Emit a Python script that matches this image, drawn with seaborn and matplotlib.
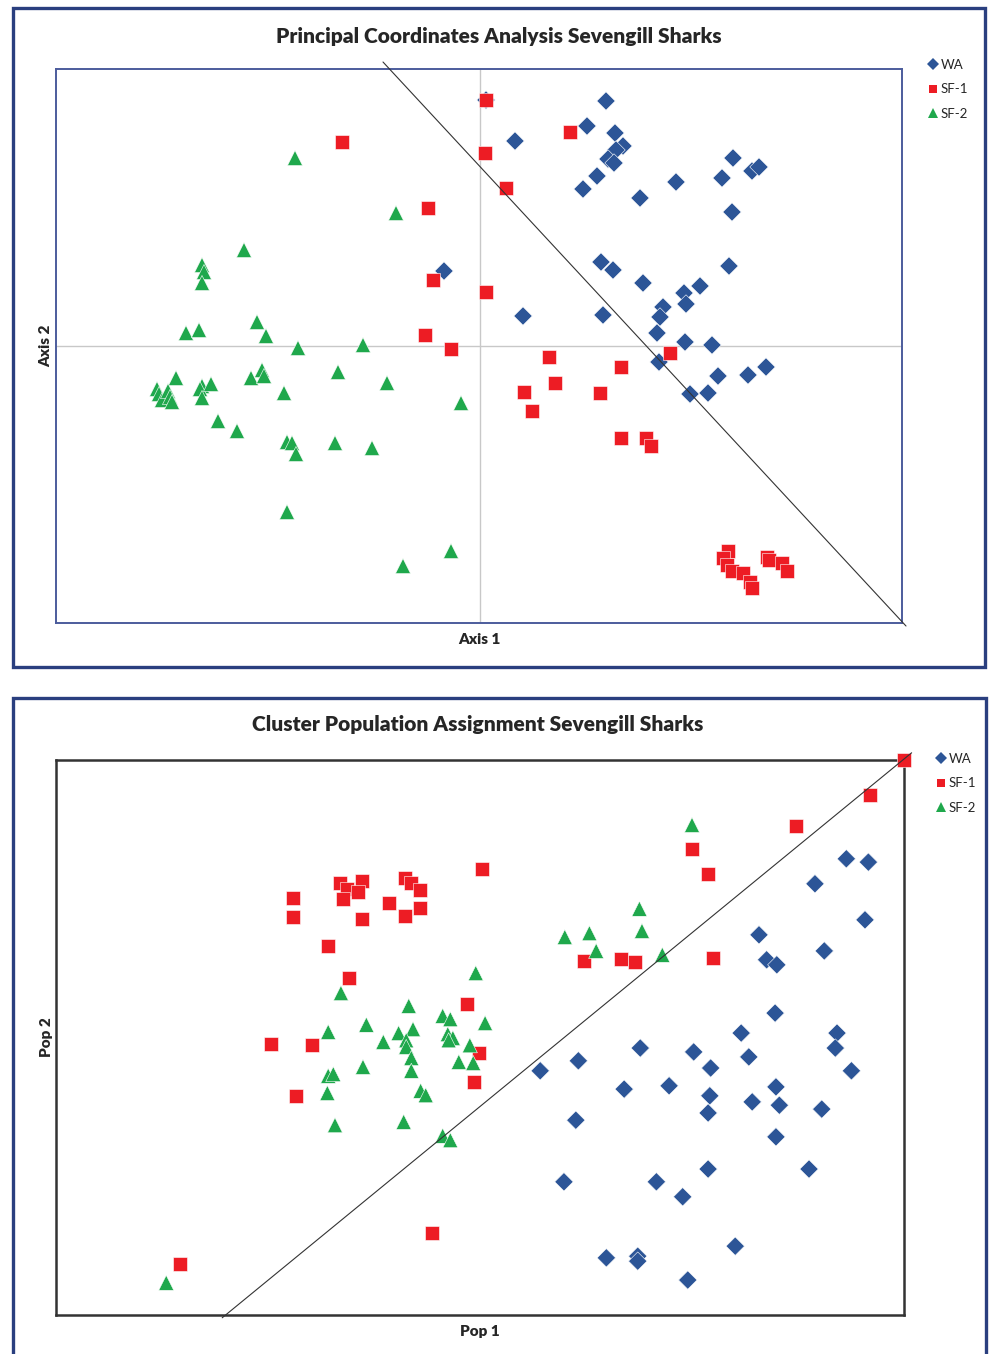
import pandas as pd
import matplotlib
matplotlib.use("Agg")
import matplotlib.pyplot as plt
import seaborn as sns
from matplotlib.patches import Rectangle

# Panel 1: PCoA coordinates
wa_axis1 = [0.006, 0.126, 0.107, 0.035, 0.135, 0.143, 0.136, 0.128, 0.134, 0.117,
            0.103, 0.196, 0.160, 0.253, 0.242, 0.272, 0.279, 0.252, 0.249, 0.121,
            0.133, 0.163, 0.220, 0.204, 0.206, 0.183, 0.180, 0.043, 0.123, 0.177,
            0.205, 0.232, 0.179, 0.238, 0.268, 0.286, 0.210, 0.228, -0.036]
wa_axis2 = [0.246, 0.245, 0.220, 0.205, 0.213, 0.200, 0.196, 0.187, 0.183, 0.170,
            0.157, 0.164, 0.148, 0.188, 0.168, 0.175, 0.179, 0.134, 0.080, 0.084,
            0.076, 0.063, 0.060, 0.053, 0.042, 0.039, 0.029, 0.030, 0.031, 0.013,
            0.004, 0.001, -0.016, -0.030, -0.029, -0.021, -0.048, -0.047, 0.075]
sf1_axis1 = [0.006, -0.138, 0.005, -0.052, 0.090, 0.026, -0.047, 0.006, -0.055, -0.029,
             0.069, 0.190, 0.141, 0.044, 0.075, 0.120, 0.052, 0.141, 0.166, 0.171,
             0.248, 0.243, 0.247, 0.252, 0.263, 0.270, 0.272, 0.287, 0.289, 0.302, 0.307]
sf1_axis2 = [0.246, 0.204, 0.193, 0.138, 0.214, 0.158, 0.066, 0.054, 0.011, -0.003,
             -0.011, -0.007, -0.021, -0.046, -0.037, -0.047, -0.065, -0.092, -0.092, -0.100,
             -0.205, -0.212, -0.219, -0.225, -0.227, -0.236, -0.242, -0.211, -0.214, -0.217, -0.225]
sf2_axis1 = [-0.185, -0.084, -0.236, -0.278, -0.276, -0.278, -0.223, -0.294, -0.281, -0.214,
             -0.182, -0.117, -0.304, -0.323, -0.321, -0.318, -0.312, -0.310, -0.308, -0.278,
             -0.280, -0.269, -0.278, -0.229, -0.218, -0.216, -0.142, -0.196, -0.093, -0.019,
             -0.262, -0.243, -0.193, -0.188, -0.184, -0.145, -0.108, -0.193, -0.029, -0.077]
sf2_axis2 = [0.188, 0.133, 0.096, 0.081, 0.074, 0.063, 0.024, 0.013, 0.016, 0.010,
             -0.002, 0.001, -0.032, -0.043, -0.048, -0.054, -0.045, -0.051, -0.056, -0.040,
             -0.043, -0.038, -0.052, -0.032, -0.024, -0.030, -0.026, -0.047, -0.037, -0.057,
             -0.075, -0.085, -0.096, -0.097, -0.108, -0.097, -0.102, -0.166, -0.205, -0.220]
pcoa_line_x = [-0.097, 0.426]
pcoa_line_y = [0.284, -0.280]

# Panel 2: cluster assignment probabilities
wa_pop1 = [0.932, 0.958, 0.895, 0.954, 0.829, 0.906, 0.838, 0.850, 0.848, 0.808,
           0.921, 0.919, 0.689, 0.752, 0.817, 0.772, 0.938, 0.571, 0.616, 0.670,
           0.723, 0.771, 0.849, 0.821, 0.853, 0.903, 0.769, 0.613, 0.849, 0.769,
           0.888, 0.599, 0.708, 0.739, 0.801, 0.649, 0.686, 0.686, 0.745]
wa_pop2 = [0.822, 0.816, 0.777, 0.712, 0.685, 0.656, 0.640, 0.631, 0.544, 0.508,
           0.508, 0.481, 0.481, 0.474, 0.465, 0.445, 0.440, 0.440, 0.458, 0.407,
           0.413, 0.395, 0.411, 0.384, 0.378, 0.371, 0.364, 0.351, 0.321, 0.263,
           0.263, 0.240, 0.240, 0.213, 0.124, 0.103, 0.106, 0.097, 0.063]
sf1_pop1 = [0.279, 0.279, 0.335, 0.343, 0.338, 0.361, 0.356, 0.361, 0.393, 0.412,
            0.419, 0.429, 0.429, 0.412, 0.502, 0.321, 0.346, 0.485, 0.254, 0.302,
            0.283, 0.499, 0.493, 0.443, 0.146, 1.000, 0.960, 0.873, 0.750, 0.769,
            0.623, 0.666, 0.683, 0.775]
sf1_pop2 = [0.751, 0.717, 0.778, 0.768, 0.750, 0.782, 0.762, 0.714, 0.742, 0.787,
            0.778, 0.766, 0.733, 0.719, 0.804, 0.665, 0.607, 0.560, 0.488, 0.486,
            0.395, 0.472, 0.420, 0.148, 0.092, 1.000, 0.937, 0.881, 0.840, 0.795,
            0.638, 0.641, 0.636, 0.643]
sf2_pop1 = [0.750, 0.688, 0.691, 0.600, 0.629, 0.637, 0.715, 0.495, 0.336, 0.416,
            0.456, 0.465, 0.506, 0.321, 0.366, 0.386, 0.404, 0.421, 0.413, 0.413,
            0.419, 0.419, 0.462, 0.468, 0.463, 0.488, 0.475, 0.492, 0.362, 0.321,
            0.327, 0.320, 0.329, 0.410, 0.430, 0.436, 0.456, 0.465, 0.130]
sf2_pop2 = [0.883, 0.732, 0.692, 0.681, 0.688, 0.656, 0.649, 0.616, 0.580, 0.557,
            0.539, 0.533, 0.526, 0.510, 0.523, 0.492, 0.508, 0.515, 0.495, 0.483,
            0.463, 0.440, 0.506, 0.499, 0.495, 0.486, 0.456, 0.454, 0.447, 0.431,
            0.434, 0.400, 0.342, 0.348, 0.404, 0.396, 0.323, 0.315, 0.058]
cluster_line_x = [0.196, 1.009]
cluster_line_y = [-0.005, 1.013]

groups = ["WA", "SF-1", "SF-2"]
colors = {"WA": "#2C5597", "SF-1": "#ED1C24", "SF-2": "#1FA84C"}
markers = {"WA": "D", "SF-1": "s", "SF-2": "^"}
msizes = {"WA": 88, "SF-1": 100, "SF-2": 118}

pcoa = pd.DataFrame({
    "x": wa_axis1 + sf1_axis1 + sf2_axis1,
    "y": wa_axis2 + sf1_axis2 + sf2_axis2,
    "pop": ["WA"] * len(wa_axis1) + ["SF-1"] * len(sf1_axis1) + ["SF-2"] * len(sf2_axis1),
})
clus = pd.DataFrame({
    "x": wa_pop1 + sf1_pop1 + sf2_pop1,
    "y": wa_pop2 + sf1_pop2 + sf2_pop2,
    "pop": ["WA"] * len(wa_pop1) + ["SF-1"] * len(sf1_pop1) + ["SF-2"] * len(sf2_pop1),
})

sns.set_style("white")
plt.rcParams["font.family"] = ["Lato", "DejaVu Sans"]

W, H = 992, 1354
fig = plt.figure(figsize=(W / 100, H / 100), dpi=100)

# outer navy frames round each chart
for (x0, y0, x1, y1) in [(13, 8, 985, 667), (13, 698, 986, 1360)]:
    fig.patches.append(Rectangle((x0 / W, 1 - y1 / H), (x1 - x0) / W, (y1 - y0) / H,
                                 transform=fig.transFigure, fill=False,
                                 edgecolor="#2A3F7F", linewidth=2.4, zorder=0))

ax1 = fig.add_axes([56 / W, 1 - 623 / H, 846 / W, 554 / H])
ax2 = fig.add_axes([56 / W, 1 - 1315 / H, 848 / W, 555 / H])


def draw(ax, df, line_x, line_y, spine_color, spine_w):
    sns.scatterplot(data=df, x="x", y="y", hue="pop", style="pop", size="pop",
                    hue_order=groups, style_order=groups, size_order=groups,
                    palette=colors, markers=markers, sizes=msizes,
                    edgecolor="white", linewidth=0.4, ax=ax, clip_on=False, zorder=3)
    ax.plot(line_x, line_y, color="#333333", linewidth=0.8, clip_on=False, zorder=4)
    ax.set_xticks([])
    ax.set_yticks([])
    for sp in ax.spines.values():
        sp.set_color(spine_color)
        sp.set_linewidth(spine_w)
    handles, labels = ax.get_legend_handles_labels()
    for h in handles:
        h.set_markeredgewidth(0)
    return handles, labels


def legend(ax, handles, labels, x, y):
    ax.legend(handles, labels, loc="upper left", bbox_to_anchor=(x / W, 1 - y / H),
              bbox_transform=fig.transFigure, frameon=False, markerscale=0.6,
              handletextpad=0.15, handlelength=0.8, labelspacing=0.95, fontsize=9.5)


h1, l1 = draw(ax1, pcoa, pcoa_line_x, pcoa_line_y, "#4C5C9C", 1.4)
ax1.axvline(0, color="#C8C8C8", linewidth=1, zorder=1)
ax1.axhline(0, color="#C8C8C8", linewidth=1, zorder=1)
ax1.set_xlim(-0.424, 0.422)
ax1.set_ylim(-0.277, 0.277)
ax1.set_xlabel("Axis 1", fontsize=11, fontweight="heavy")
ax1.set_ylabel("Axis 2", fontsize=11, fontweight="heavy")
ax1.xaxis.set_label_coords(0.5, -0.018)
ax1.yaxis.set_label_coords(-0.004, 0.5)
legend(ax1, h1, l1, 916, 47)

h2, l2 = draw(ax2, clus, cluster_line_x, cluster_line_y, "#333333", 1.8)
ax2.set_xlim(0, 1)
ax2.set_ylim(0, 1)
ax2.set_xlabel("Pop 1", fontsize=11, fontweight="heavy")
ax2.set_ylabel("Pop 2", fontsize=11, fontweight="heavy")
ax2.xaxis.set_label_coords(0.5, -0.018)
ax2.yaxis.set_label_coords(-0.004, 0.5)
legend(ax2, h2, l2, 924, 741)

fig.text(499 / W, 1 - 36 / H, "Principal Coordinates Analysis Sevengill Sharks",
         ha="center", va="center", fontsize=15, fontweight="heavy")
fig.text(478 / W, 1 - 725 / H, "Cluster Population Assignment Sevengill Sharks",
         ha="center", va="center", fontsize=15, fontweight="heavy")

fig.savefig("out.png", dpi=100)
